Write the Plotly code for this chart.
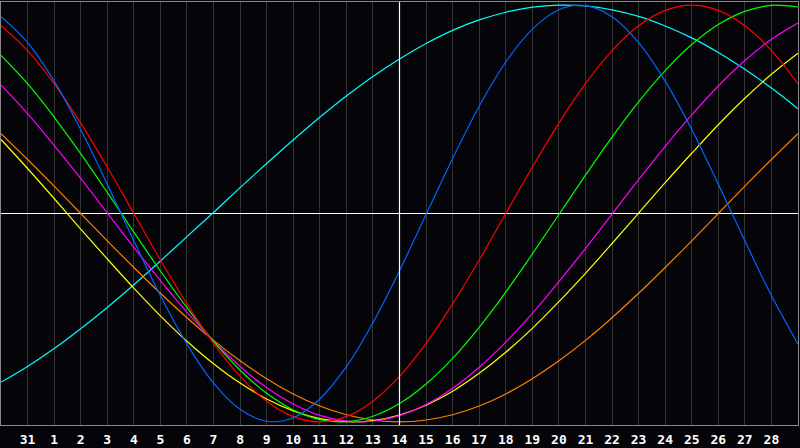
import plotly.graph_objects as go

# days shown (one column per day, 30 Jan -> 1 Mar)
days = ["30", "31", "1", "2", "3", "4", "5", "6", "7", "8", "9", "10", "11", "12", "13",
        "14", "15", "16", "17", "18", "19", "20", "21", "22", "23", "24", "25", "26",
        "27", "28", "1"]
today = "14"

# cycle values per day (percent)
physical = [94.4, 82.0, 63.5, 40.3, 14.1, -13.1, -39.4, -62.7, -81.4, -94.0, -99.7,
            -98.0, -89.0, -73.5, -52.4, -27.5, -0.5, 26.4, 51.5, 72.7, 88.5, 97.8,
            99.8, 94.4, 82.0, 63.5, 40.3, 14.1, -13.1, -39.4, -62.7]
emotional = [90.1, 78.2, 62.3, 43.4, 22.3, 0.0, -22.3, -43.4, -62.3, -78.2, -90.1,
             -97.5, -100.0, -97.5, -90.1, -78.2, -62.3, -43.4, -22.3, 0.0, 22.3, 43.4,
             62.3, 78.2, 90.1, 97.5, 100.0, 97.5, 90.1, 78.2, 62.3]
intellectual = [75.9, 62.3, 46.3, 28.7, 10.1, -8.9, -27.6, -45.2, -61.4, -75.2, -86.3,
                -94.3, -98.9, -99.9, -97.3, -91.2, -81.8, -69.5, -54.6, -37.7, -19.4,
                -0.5, 18.4, 36.7, 53.6, 68.6, 81.1, 90.7, 97.0, 99.9, 99.1]
intuitive = [61.7, 47.9, 32.7, 16.8, 0.3, -16.2, -32.2, -47.3, -61.2, -73.4, -83.6,
             -91.4, -96.9, -99.6, -99.7, -97.0, -91.7, -83.9, -73.8, -61.7, -47.9,
             -32.7, -16.8, -0.3, 16.2, 32.2, 47.3, 61.2, 73.4, 83.6, 91.4]
aesthetic = [35.5, 21.6, 7.2, -7.5, -21.8, -35.8, -49.1, -61.3, -72.1, -81.4, -89.0,
             -94.7, -98.4, -99.9, -99.4, -96.7, -92.0, -85.3, -76.7, -66.6, -55.1,
             -42.3, -28.7, -14.4, 0.2, 14.8, 28.9, 42.6, 55.3, 66.8, 76.9]
awareness = [38.3, 25.9, 13.1, 0.0, -13.1, -25.9, -38.3, -50.0, -60.9, -70.7, -79.3,
             -86.6, -92.4, -96.6, -99.1, -100.0, -99.1, -96.6, -92.4, -86.6, -79.3,
             -70.7, -60.9, -50.0, -38.3, -25.9, -13.1, 0.0, 13.1, 25.9, 38.3]
spiritual = [-80.9, -73.4, -64.8, -55.3, -45.1, -34.2, -22.8, -11.1, 0.5, 12.4, 24.0,
             35.3, 46.2, 56.4, 65.8, 74.2, 81.6, 87.9, 92.9, 96.6, 99.0, 100.0, 99.6,
             97.7, 94.6, 90.0, 84.3, 77.3, 69.2, 60.2, 50.3]

series = [
    ("Spiritual", spiritual, "#00ffff"),
    ("Awareness", awareness, "#ff8000"),
    ("Aesthetic", aesthetic, "#ffff00"),
    ("Intuitive", intuitive, "#ff00ff"),
    ("Intellectual", intellectual, "#00ff00"),
    ("Emotional", emotional, "#ff0000"),
    ("Physical", physical, "#0066ff"),
]

x = list(range(len(days)))
fig = go.Figure()
for name, vals, col in series:
    fig.add_trace(go.Scatter(x=x, y=vals, name=name, mode="lines",
                             line=dict(color=col, width=1.2, shape="spline")))

# marker for today
fig.add_vline(x=days.index(today), line_color="white", line_width=1.2, layer="above")

fig.update_xaxes(range=[0, len(days) - 1], tickvals=x[1:-1], ticktext=days[1:-1],
                 showgrid=True, gridcolor="#333333", gridwidth=1, zeroline=False,
                 showline=True, linecolor="#8a8a8a", mirror=True, ticks="",
                 ticklabelstandoff=2,
                 tickfont=dict(family="DejaVu Sans Mono", size=13, color="white",
                               weight="bold"))
fig.update_yaxes(range=[-101.5, 101.5], showgrid=False, showticklabels=False,
                 zeroline=True, zerolinecolor="white", zerolinewidth=1.2,
                 showline=True, linecolor="#8a8a8a", mirror=True)
fig.update_layout(width=800, height=448, showlegend=False,
                  margin=dict(l=1, r=1, t=1, b=20),
                  paper_bgcolor="#050408", plot_bgcolor="#050408")

# page has a default body margin; drop it so the chart fills the window
fig.write_html("out.html", config={"displayModeBar": False},
               post_script="document.body.style.margin='0';document.body.style.overflow='hidden';")
